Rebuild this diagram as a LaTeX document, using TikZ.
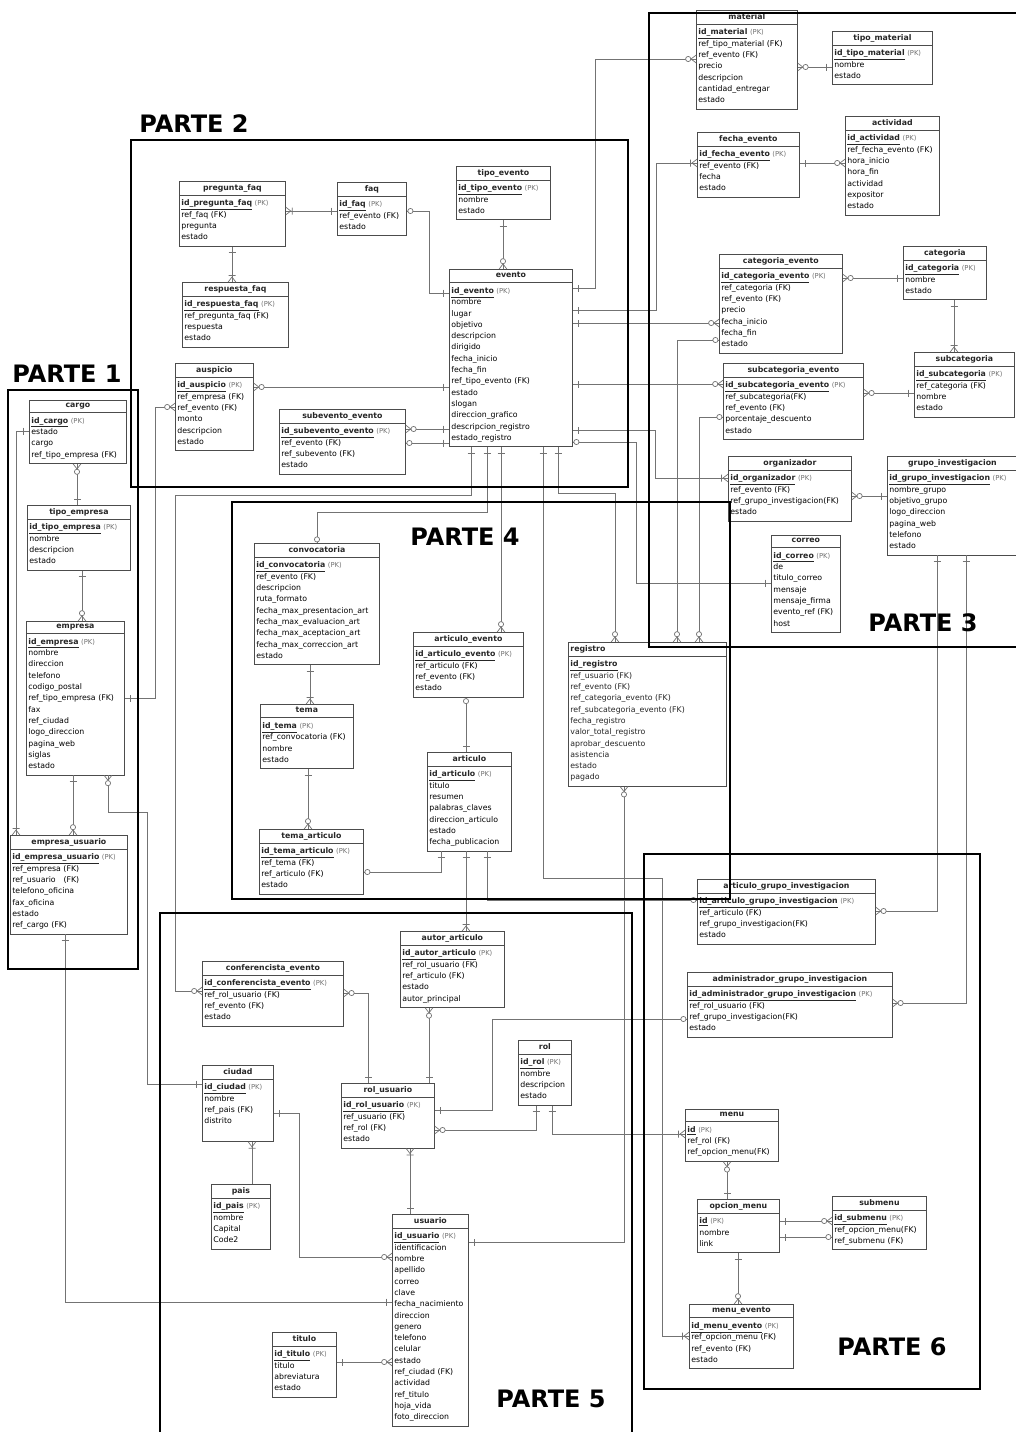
\documentclass[tikz,border=0pt]{standalone}
\usepackage{fontspec}
\setmainfont{DejaVu Sans}
\usepackage{tikz}
\usetikzlibrary{arrows.meta}
\usetikzlibrary{shapes.multipart}

\newcommand{\pkey}[1]{\textbf{\underline{#1}}\ {\fontsize{6.8}{11.3}\selectfont\color{black!55}(PK)}}
\newcommand{\ttl}[1]{\hbox to\hsize{\hss\rule[-2pt]{0pt}{6.2pt}\textbf{#1}\hss}}

% crow's foot ends
\pgfdeclarearrow{
  name=erOne,
  setup code={
    \pgfarrowssettipend{0pt}
    \pgfarrowssetlineend{0pt}
    \pgfarrowssetbackend{-7pt}
    \pgfarrowshullpoint{0pt}{4pt}
    \pgfarrowshullpoint{-7pt}{4pt}
    \pgfarrowshullpoint{-7pt}{-4pt}
    \pgfarrowshullpoint{0pt}{-4pt}
  },
  drawing code={
    \pgfpathmoveto{\pgfqpoint{-6pt}{3.5pt}}
    \pgfpathlineto{\pgfqpoint{-6pt}{-3.5pt}}
    \pgfusepathqstroke
  }
}
\pgfdeclarearrow{
  name=erZero,
  setup code={
    \pgfarrowssettipend{0pt}
    \pgfarrowssetlineend{0pt}
    \pgfarrowssetbackend{-7pt}
    \pgfarrowshullpoint{0pt}{3pt}
    \pgfarrowshullpoint{-7pt}{3pt}
    \pgfarrowshullpoint{-7pt}{-3pt}
    \pgfarrowshullpoint{0pt}{-3pt}
  },
  drawing code={
    \pgfpathcircle{\pgfqpoint{-3.6pt}{0pt}}{2.6pt}
    \pgfsetfillcolor{white}
    \pgfusepathqfillstroke
  }
}
\pgfdeclarearrow{
  name=erZeroMany,
  setup code={
    \pgfarrowssettipend{0pt}
    \pgfarrowssetlineend{0pt}
    \pgfarrowssetbackend{-11pt}
    \pgfarrowshullpoint{0pt}{4pt}
    \pgfarrowshullpoint{-11pt}{4pt}
    \pgfarrowshullpoint{-11pt}{-4pt}
    \pgfarrowshullpoint{0pt}{-4pt}
  },
  drawing code={
    \pgfpathmoveto{\pgfqpoint{0pt}{3.8pt}}
    \pgfpathlineto{\pgfqpoint{-5pt}{0pt}}
    \pgfpathlineto{\pgfqpoint{0pt}{-3.8pt}}
    \pgfusepathqstroke
    \pgfpathcircle{\pgfqpoint{-7.8pt}{0pt}}{2.6pt}
    \pgfsetfillcolor{white}
    \pgfusepathqfillstroke
  }
}
\pgfdeclarearrow{
  name=erOneMany,
  setup code={
    \pgfarrowssettipend{0pt}
    \pgfarrowssetlineend{0pt}
    \pgfarrowssetbackend{-8pt}
    \pgfarrowshullpoint{0pt}{4pt}
    \pgfarrowshullpoint{-8pt}{4pt}
    \pgfarrowshullpoint{-8pt}{-4pt}
    \pgfarrowshullpoint{0pt}{-4pt}
  },
  drawing code={
    \pgfpathmoveto{\pgfqpoint{0pt}{3.8pt}}
    \pgfpathlineto{\pgfqpoint{-5pt}{0pt}}
    \pgfpathlineto{\pgfqpoint{0pt}{-3.8pt}}
    \pgfpathmoveto{\pgfqpoint{-6.5pt}{3.5pt}}
    \pgfpathlineto{\pgfqpoint{-6.5pt}{-3.5pt}}
    \pgfusepathqstroke
  }
}

\begin{document}
\begin{tikzpicture}[x=1pt,y=-1pt]
        \tikzset{tbl/.style = {rectangle split, rectangle split parts=2, draw=black!70, fill=white, line width=0.8pt, anchor=north west, inner xsep=2pt, inner ysep=2.5pt, align=left, font=\fontsize{7.8}{11.3}\selectfont, text=black!85}}
        \tikzset{rel/.style = {draw=black!55, line width=0.7pt}}
        \tikzset{parte/.style = {draw=black, line width=2.6pt}}
        \tikzset{partelbl/.style = {font=\fontsize{24}{24}\selectfont\bfseries, inner sep=0pt}}
        \fill[white] (0,0) rectangle (1016,1432);
        \useasboundingbox (0,0) rectangle (1016,1432);

        % parte 2
        \node[tbl, text width=102pt] (pregunta_faq) at (179,181) {\ttl{pregunta\_faq}\nodepart{two}\strut\pkey{id\_pregunta\_faq}\\ref\_faq (FK)\\pregunta\\estado\strut};
        \node[tbl, text width=102pt] (respuesta_faq) at (182,282) {\ttl{respuesta\_faq}\nodepart{two}\strut\pkey{id\_respuesta\_faq}\\ref\_pregunta\_faq (FK)\\respuesta\\estado\strut};
        \node[tbl, text width=65pt] (faq) at (337,182) {\ttl{faq}\nodepart{two}\strut\pkey{id\_faq}\\ref\_evento (FK)\\estado\strut};
        \node[tbl, text width=90pt] (tipo_evento) at (456,166) {\ttl{tipo\_evento}\nodepart{two}\strut\pkey{id\_tipo\_evento}\\nombre\\estado\strut};
        \node[tbl, text width=119pt] (evento) at (449,269) {\ttl{evento}\nodepart{two}\strut\pkey{id\_evento}\\nombre\\lugar\\objetivo\\descripcion\\dirigido\\fecha\_inicio\\fecha\_fin\\ref\_tipo\_evento (FK)\\estado\\slogan\\direccion\_grafico\\descripcion\_registro\\estado\_registro\strut};
        \node[tbl, text width=74pt] (auspicio) at (175,363) {\ttl{auspicio}\nodepart{two}\strut\pkey{id\_auspicio}\\ref\_empresa (FK)\\ref\_evento (FK)\\monto\\descripcion\\estado\strut};
        \node[tbl, text width=122pt] (subevento_evento) at (279,409) {\ttl{subevento\_evento}\nodepart{two}\strut\pkey{id\_subevento\_evento}\\ref\_evento (FK)\\ref\_subevento (FK)\\estado\strut};

        % parte 1
        \node[tbl, text width=93pt] (cargo) at (29,400) {\ttl{cargo}\nodepart{two}\strut\pkey{id\_cargo}\\estado\\cargo\\ref\_tipo\_empresa (FK)\strut};
        \node[tbl, text width=99pt] (tipo_empresa) at (27,505) {\ttl{tipo\_empresa}\nodepart{two}\strut\pkey{id\_tipo\_empresa}\\nombre\\descripcion\\estado\strut};
        \node[tbl, text width=94pt] (empresa) at (26,621) {\ttl{empresa}\nodepart{two}\strut\pkey{id\_empresa}\\nombre\\direccion\\telefono\\codigo\_postal\\ref\_tipo\_empresa (FK)\\fax\\ref\_ciudad\\logo\_direccion\\pagina\_web\\siglas\\estado\strut};
        \node[tbl, text width=113pt] (empresa_usuario) at (10,835) {\ttl{empresa\_usuario}\nodepart{two}\strut\pkey{id\_empresa\_usuario}\\ref\_empresa (FK)\\ref\_usuario\ \ \ (FK)\\telefono\_oficina\\fax\_oficina\\estado\\ref\_cargo (FK)\strut};

        % parte 3
        \node[tbl, text width=97pt] (material) at (696,10) {\ttl{material}\nodepart{two}\strut\pkey{id\_material}\\ref\_tipo\_material (FK)\\ref\_evento (FK)\\precio\\descripcion\\cantidad\_entregar\\estado\strut};
        \node[tbl, text width=96pt] (tipo_material) at (832,31) {\ttl{tipo\_material}\nodepart{two}\strut\pkey{id\_tipo\_material}\\nombre\\estado\strut};
        \node[tbl, text width=98pt] (fecha_evento) at (697,132) {\ttl{fecha\_evento}\nodepart{two}\strut\pkey{id\_fecha\_evento}\\ref\_evento (FK)\\fecha\\estado\strut};
        \node[tbl, text width=90pt] (actividad) at (845,116) {\ttl{actividad}\nodepart{two}\strut\pkey{id\_actividad}\\ref\_fecha\_evento (FK)\\hora\_inicio\\hora\_fin\\actividad\\expositor\\estado\strut};
        \node[tbl, text width=119pt] (categoria_evento) at (719,254) {\ttl{categoria\_evento}\nodepart{two}\strut\pkey{id\_categoria\_evento}\\ref\_categoria (FK)\\ref\_evento (FK)\\precio\\fecha\_inicio\\fecha\_fin\\estado\strut};
        \node[tbl, text width=79pt] (categoria) at (903,246) {\ttl{categoria}\nodepart{two}\strut\pkey{id\_categoria}\\nombre\\estado\strut};
        \node[tbl, text width=96pt] (subcategoria) at (914,352) {\ttl{subcategoria}\nodepart{two}\strut\pkey{id\_subcategoria}\\ref\_categoria (FK)\\nombre\\estado\strut};
        \node[tbl, text width=136pt] (subcategoria_evento) at (723,363) {\ttl{subcategoria\_evento}\nodepart{two}\strut\pkey{id\_subcategoria\_evento}\\ref\_subcategoria(FK)\\ref\_evento (FK)\\porcentaje\_descuento\\estado\strut};
        \node[tbl, text width=119pt] (organizador) at (728,456) {\ttl{organizador}\nodepart{two}\strut\pkey{id\_organizador}\\ref\_evento (FK)\\ref\_grupo\_investigacion(FK)\\estado\strut};
        \node[tbl, text width=126pt] (grupo_investigacion) at (887,456) {\ttl{grupo\_investigacion}\nodepart{two}\strut\pkey{id\_grupo\_investigacion}\\nombre\_grupo\\objetivo\_grupo\\logo\_direccion\\pagina\_web\\telefono\\estado\strut};
        \node[tbl, text width=65pt] (correo) at (771,535) {\ttl{correo}\nodepart{two}\strut\pkey{id\_correo}\\de\\titulo\_correo\\mensaje\\mensaje\_firma\\evento\_ref (FK)\\host\strut};

        % parte 4
        \node[tbl, text width=121pt] (convocatoria) at (254,543) {\ttl{convocatoria}\nodepart{two}\strut\pkey{id\_convocatoria}\\ref\_evento (FK)\\descripcion\\ruta\_formato\\fecha\_max\_presentacion\_art\\fecha\_max\_evaluacion\_art\\fecha\_max\_aceptacion\_art\\fecha\_max\_correccion\_art\\estado\strut};
        \node[tbl, text width=89pt] (tema) at (260,704) {\ttl{tema}\nodepart{two}\strut\pkey{id\_tema}\\ref\_convocatoria (FK)\\nombre\\estado\strut};
        \node[tbl, text width=100pt] (tema_articulo) at (259,829) {\ttl{tema\_articulo}\nodepart{two}\strut\pkey{id\_tema\_articulo}\\ref\_tema (FK)\\ref\_articulo (FK)\\estado\strut};
        \node[tbl, text width=106pt] (articulo_evento) at (413,632) {\ttl{articulo\_evento}\nodepart{two}\strut\pkey{id\_articulo\_evento}\\ref\_articulo (FK)\\ref\_evento (FK)\\estado\strut};
        \node[tbl, text width=80pt] (articulo) at (427,752) {\ttl{articulo}\nodepart{two}\strut\pkey{id\_articulo}\\titulo\\resumen\\palabras\_claves\\direccion\_articulo\\estado\\fecha\_publicacion\strut};
        \node[tbl, text width=154pt] (registro) at (568,642) {\rule[-2pt]{0pt}{6.2pt}\textbf{registro}\nodepart{two}\strut\textbf{\underline{id\_registro}}\\ref\_usuario (FK)\\ref\_evento (FK)\\ref\_categoria\_evento (FK)\\ref\_subcategoria\_evento (FK)\\fecha\_registro\\valor\_total\_registro\\aprobar\_descuento\\asistencia\\estado\\pagado\strut};

        % parte 6
        \node[tbl, text width=174pt] (articulo_grupo_investigacion) at (697,879) {\ttl{articulo\_grupo\_investigacion}\nodepart{two}\strut\pkey{id\_articulo\_grupo\_investigacion}\\ref\_articulo (FK)\\ref\_grupo\_investigacion(FK)\\estado\strut};
        \node[tbl, text width=201pt] (administrador_grupo_investigacion) at (687,972) {\ttl{administrador\_grupo\_investigacion}\nodepart{two}\strut\pkey{id\_administrador\_grupo\_investigacion}\\ref\_rol\_usuario (FK)\\ref\_grupo\_investigacion(FK)\\estado\strut};
        \node[tbl, text width=89pt] (menu) at (685,1109) {\ttl{menu}\nodepart{two}\strut\pkey{id}\\ref\_rol (FK)\\ref\_opcion\_menu(FK)\strut};
        \node[tbl, text width=78pt] (opcion_menu) at (697,1199) {\ttl{opcion\_menu}\nodepart{two}\strut\pkey{id}\\nombre\\link\strut};
        \node[tbl, text width=90pt] (submenu) at (832,1196) {\ttl{submenu}\nodepart{two}\strut\pkey{id\_submenu}\\ref\_opcion\_menu(FK)\\ref\_submenu (FK)\strut};
        \node[tbl, text width=100pt] (menu_evento) at (689,1304) {\ttl{menu\_evento}\nodepart{two}\strut\pkey{id\_menu\_evento}\\ref\_opcion\_menu (FK)\\ref\_evento (FK)\\estado\strut};

        % parte 5
        \node[tbl, text width=137pt] (conferencista_evento) at (202,961) {\ttl{conferencista\_evento}\nodepart{two}\strut\pkey{id\_conferencista\_evento}\\ref\_rol\_usuario (FK)\\ref\_evento (FK)\\estado\strut};
        \node[tbl, text width=100pt] (autor_articulo) at (400,931) {\ttl{autor\_articulo}\nodepart{two}\strut\pkey{id\_autor\_articulo}\\ref\_rol\_usuario (FK)\\ref\_articulo (FK)\\estado\\autor\_principal\strut};
        \node[tbl, text width=49pt] (rol) at (518,1040) {\ttl{rol}\nodepart{two}\strut\pkey{id\_rol}\\nombre\\descripcion\\estado\strut};
        \node[tbl, text width=67pt] (ciudad) at (202,1065) {\ttl{ciudad}\nodepart{two}\strut\pkey{id\_ciudad}\\nombre\\ref\_pais (FK)\\distrito\\\strut};
        \node[tbl, text width=55pt] (pais) at (211,1184) {\ttl{pais}\nodepart{two}\strut\pkey{id\_pais}\\nombre\\Capital\\Code2\strut};
        \node[tbl, text width=89pt] (rol_usuario) at (341,1083) {\ttl{rol\_usuario}\nodepart{two}\strut\pkey{id\_rol\_usuario}\\ref\_usuario (FK)\\ref\_rol (FK)\\estado\strut};
        \node[tbl, text width=72pt] (usuario) at (392,1214) {\ttl{usuario}\nodepart{two}\strut\pkey{id\_usuario}\\identificacion\\nombre\\apellido\\correo\\clave\\fecha\_nacimiento\\direccion\\genero\\telefono\\celular\\estado\\ref\_ciudad (FK)\\actividad\\ref\_titulo\\hoja\_vida\\foto\_direccion\strut};
        \node[tbl, text width=60pt] (titulo) at (272,1332) {\ttl{titulo}\nodepart{two}\strut\pkey{id\_titulo}\\titulo\\abreviatura\\estado\strut};

        % relaciones parte 2
        \draw[rel,{erOneMany}-{erOne}] (pregunta_faq.east |- 0,211) -- (faq.west |- 0,211);
        \draw[rel,{erOne}-{erOneMany}] (pregunta_faq.south -| 232,0) -- (respuesta_faq.north -| 232,0);
        \draw[rel,{erZero}-{erOne}] (faq.east |- 0,211) -- (429,211) |- (evento.west |- 0,293);
        \draw[rel,{erOne}-{erZeroMany}] (tipo_evento.south -| 503,0) -- (evento.north -| 503,0);
        \draw[rel,{erZeroMany}-{erOne}] (auspicio.east |- 0,387) -- (evento.west |- 0,387);
        \draw[rel,{erZeroMany}-{erOne}] (subevento_evento.east |- 0,429) -- (evento.west |- 0,429);
        \draw[rel,{erZero}-{erOne}] (subevento_evento.east |- 0,443) -- (evento.west |- 0,443);
        \draw[rel,{erOne}-{erZeroMany}] (evento.east |- 0,288) -- (595,288) |- (material.west |- 0,59);
        \draw[rel,{erOne}-{erOneMany}] (evento.east |- 0,310) -- (656,310) |- (fecha_evento.west |- 0,163);
        \draw[rel,{erOne}-{erZeroMany}] (evento.east |- 0,323) -- (categoria_evento.west |- 0,323);
        \draw[rel,{erOne}-{erZeroMany}] (evento.east |- 0,384) -- (subcategoria_evento.west |- 0,384);
        \draw[rel,{erOne}-{erOneMany}] (evento.east |- 0,430) -- (655,430) |- (organizador.west |- 0,478);
        \draw[rel,{erZero}-{erOne}] (evento.east |- 0,442) -- (636,442) |- (correo.west |- 0,583);
        \draw[rel,{erOne}-{erZeroMany}] (evento.south -| 471,0) |- (175,495) |- (conferencista_evento.west |- 0,991);
        \draw[rel,{erOne}-{erZero}] (evento.south -| 487,0) |- (317,512) -- (convocatoria.north -| 317,0);
        \draw[rel,{erOne}-{erZeroMany}] (evento.south -| 501,0) -- (articulo_evento.north -| 501,0);
        \draw[rel,{erOne}-{erOneMany}] (evento.south -| 543,0) |- (662,878) |- (menu_evento.west |- 0,1336);
        \draw[rel,{erOne}-{erZeroMany}] (evento.south -| 558,0) |- (615,493) -- (registro.north -| 615,0);

        % relaciones parte 3
        \draw[rel,{erZeroMany}-{erOne}] (material.east |- 0,67) -- (tipo_material.west |- 0,67);
        \draw[rel,{erOne}-{erZeroMany}] (fecha_evento.east |- 0,163) -- (actividad.west |- 0,163);
        \draw[rel,{erZeroMany}-{erOne}] (categoria_evento.east |- 0,278) -- (categoria.west |- 0,278);
        \draw[rel,{erOne}-{erOneMany}] (categoria.south -| 954,0) -- (subcategoria.north -| 954,0);
        \draw[rel,{erZeroMany}-{erOne}] (subcategoria_evento.east |- 0,393) -- (subcategoria.west |- 0,393);
        \draw[rel,{erZero}-{erZeroMany}] (categoria_evento.west |- 0,340) -| (registro.north -| 677,0);
        \draw[rel,{erZero}-{erZeroMany}] (subcategoria_evento.west |- 0,417) -| (registro.north -| 699,0);
        \draw[rel,{erZeroMany}-{erOne}] (organizador.east |- 0,496) -- (grupo_investigacion.west |- 0,496);
        \draw[rel,{erOne}-{erZeroMany}] (grupo_investigacion.south -| 937,0) |- (articulo_grupo_investigacion.east |- 0,911);
        \draw[rel,{erOne}-{erZeroMany}] (grupo_investigacion.south -| 966,0) |- (administrador_grupo_investigacion.east |- 0,1003);

        % relaciones parte 1
        \draw[rel,{erZeroMany}-{erOne}] (cargo.south -| 77,0) -- (tipo_empresa.north -| 77,0);
        \draw[rel,{erOne}-{erZeroMany}] (tipo_empresa.south -| 82,0) -- (empresa.north -| 82,0);
        \draw[rel,{erOne}-{erOneMany}] (cargo.west |- 0,431) -| (empresa_usuario.north -| 16,0);
        \draw[rel,{erOne}-{erZeroMany}] (empresa.south -| 73,0) -- (empresa_usuario.north -| 73,0);
        \draw[rel,{erZeroMany}-{erOne}] (empresa.south -| 108,0) |- (147,812) |- (ciudad.west |- 0,1084);
        \draw[rel,{erOne}-{erZeroMany}] (empresa.east |- 0,698) -| (155,407) -- (auspicio.west |- 0,407);
        \draw[rel,{erOne}-{erOne}] (empresa_usuario.south -| 65,0) |- (usuario.west |- 0,1302);

        % relaciones parte 4
        \draw[rel,{erOne}-{erOneMany}] (convocatoria.south -| 310,0) -- (tema.north -| 310,0);
        \draw[rel,{erOne}-{erZeroMany}] (tema.south -| 308,0) -- (tema_articulo.north -| 308,0);
        \draw[rel,{erZero}-{erOne}] (tema_articulo.east |- 0,872) -| (articulo.south -| 441,0);
        \draw[rel,{erZero}-{erOne}] (articulo_evento.south -| 466,0) -- (articulo.north -| 466,0);
        \draw[rel,{erOne}-{erOneMany}] (articulo.south -| 466,0) -- (autor_articulo.north -| 466,0);
        \draw[rel,{erOne}-{erZero}] (articulo.south -| 487,0) |- (articulo_grupo_investigacion.west |- 0,900);

        % relaciones parte 5
        \draw[rel,{erZeroMany}-{erOne}] (conferencista_evento.east |- 0,993) -| (rol_usuario.north -| 368,0);
        \draw[rel,{erZeroMany}-{erOne}] (autor_articulo.south -| 429,0) -- (rol_usuario.north -| 429,0);
        \draw[rel,{erOneMany}-{erOne}] (rol_usuario.south -| 410,0) -- (usuario.north -| 410,0);
        \draw[rel,{erOne}-{erZeroMany}] (rol.south -| 536,0) |- (rol_usuario.east |- 0,1130);
        \draw[rel,{erOne}-{erOneMany}] (rol.south -| 552,0) |- (menu.west |- 0,1134);
        \draw[rel,{erOne}-{erZero}] (rol_usuario.east |- 0,1110) -| (492,1019) -- (administrador_grupo_investigacion.west |- 0,1019);
        \draw[rel,{erOne}-{erZeroMany}] (ciudad.east |- 0,1113) -| (299,1257) -- (usuario.west |- 0,1257);
        \draw[rel,{erOne}-{erZeroMany}] (titulo.east |- 0,1362) -- (usuario.west |- 0,1362);
        \draw[rel,{erOneMany}-] (ciudad.south -| 252,0) -- (pais.north -| 252,0);
        \draw[rel,{erZeroMany}-{erOne}] (registro.south -| 624,0) |- (usuario.east |- 0,1242);

        % relaciones parte 6
        \draw[rel,{erZeroMany}-{erOne}] (menu.south -| 727,0) -- (opcion_menu.north -| 727,0);
        \draw[rel,{erOne}-{erZeroMany}] (opcion_menu.east |- 0,1221) -- (submenu.west |- 0,1221);
        \draw[rel,{erOne}-{erZero}] (opcion_menu.east |- 0,1237) -- (submenu.west |- 0,1237);
        \draw[rel,{erOne}-{erZeroMany}] (opcion_menu.south -| 738,0) -- (menu_evento.north -| 738,0);

        % partes
        \draw[parte] (8,390) rectangle (138,969);
        \draw[parte] (131,140) rectangle (628,487);
        \draw[parte] (649,13) rectangle (1022,647);
        \draw[parte] (232,502) rectangle (730,899);
        \draw[parte] (160,913) rectangle (632,1440);
        \draw[parte] (644,854) rectangle (980,1389);
        \node[partelbl] (parte1) at (67,374) {PARTE 1};
        \node[partelbl] (parte2) at (194,124) {PARTE 2};
        \node[partelbl] (parte3) at (923,623) {PARTE 3};
        \node[partelbl] (parte4) at (465,537) {PARTE 4};
        \node[partelbl] (parte5) at (551,1399) {PARTE 5};
        \node[partelbl] (parte6) at (892,1347) {PARTE 6};
    \end{tikzpicture}
\end{document}
